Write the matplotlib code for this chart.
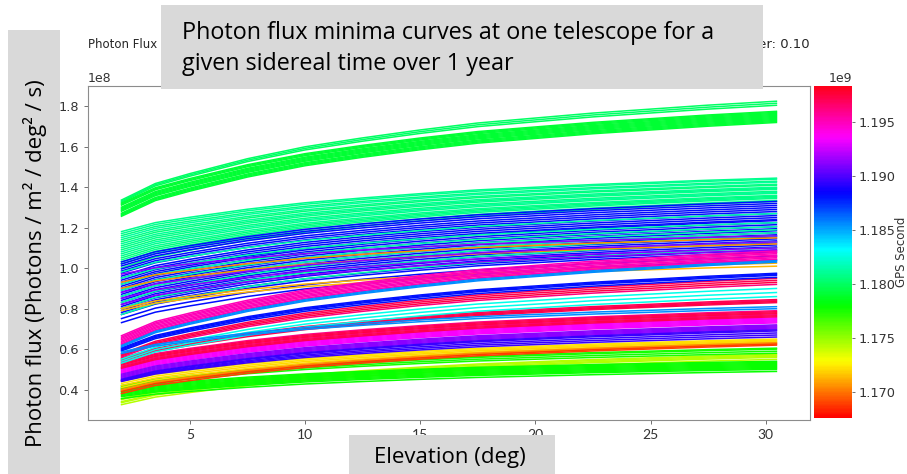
import matplotlib
matplotlib.use("Agg")
import matplotlib.pyplot as plt
import numpy as np
from matplotlib.patches import Rectangle
from matplotlib import cm, colors

# ---------------- data ----------------
# elevation samples (deg) and shared normalised rise profile of a curve
elevation = [2, 3.5, 5, 7.5, 10, 12.5, 15, 17.5, 20, 22.5, 25, 27.5, 30.5]
rise_profile = [0, 0.17, 0.27, 0.42, 0.54, 0.63, 0.71, 0.78, 0.83, 0.88, 0.92, 0.96, 1.0]

# each curve: GPS second (x1e9), flux at 2 deg and flux at 30.5 deg (x1e8)
top_green_gps = [1.1800, 1.1801, 1.1799] + [1.1790] * 12
top_green_start = [1.335, 1.33, 1.325, 1.32, 1.315, 1.31, 1.30, 1.295, 1.29, 1.285, 1.28, 1.27, 1.265, 1.26, 1.255]
top_green_end = [1.825, 1.815, 1.805, 1.775, 1.77, 1.765, 1.76, 1.755, 1.75, 1.745, 1.74, 1.735, 1.73, 1.725, 1.72]

aqua_gps = [1.1808, 1.1810, 1.1806, 1.1812, 1.1808, 1.1805, 1.1811, 1.1807, 1.1809,
            1.1806, 1.1812, 1.1808, 1.1810, 1.1805, 1.1809, 1.1807, 1.1811, 1.1806]
aqua_start = [1.18, 1.17, 1.16, 1.15, 1.14, 1.13, 1.12, 1.11, 1.10, 1.09, 1.08, 1.07, 1.06, 1.05, 1.04, 1.03, 1.02, 1.00]
aqua_end = [1.445, 1.44, 1.43, 1.425, 1.415, 1.41, 1.40, 1.395, 1.39, 1.38, 1.375, 1.37, 1.36, 1.355, 1.35, 1.345, 1.335, 1.33]

blue_gps = [1.1882] * 28
blue_start = [1.03, 1.02, 1.01, 0.995, 0.985, 0.975, 0.96, 0.95, 0.94, 0.93, 0.92, 0.91, 0.90, 0.89,
              0.88, 0.87, 0.86, 0.85, 0.84, 0.83, 0.82, 0.81, 0.80, 0.79, 0.78, 0.77, 0.75, 0.73]
blue_end = [1.33, 1.32, 1.31, 1.30, 1.29, 1.28, 1.27, 1.26, 1.25, 1.24, 1.235, 1.225, 1.215, 1.205,
            1.195, 1.185, 1.175, 1.165, 1.155, 1.145, 1.135, 1.125, 1.115, 1.105, 1.09, 1.08, 1.06, 1.04]

teal_gps = [1.1815] * 8
teal_start = [0.98, 0.95, 0.92, 0.89, 0.86, 0.83, 0.80, 0.77]
teal_end = [1.27, 1.225, 1.205, 1.19, 1.175, 1.16, 1.13, 1.10]

orange_mid_gps = [1.1705, 1.1706, 1.1712, 1.1714]
orange_mid_start = [0.93, 0.90, 0.80, 0.79]
orange_mid_end = [1.15, 1.12, 1.025, 1.01]

purple_mid_gps = [1.1912] * 4
purple_mid_start = [0.97, 0.88, 0.85, 0.82]
purple_mid_end = [1.16, 1.13, 1.10, 1.09]

pink_gps = [1.1950] * 7
pink_start = [0.665, 0.658, 0.652, 0.645, 0.638, 0.632, 0.625]
pink_end = [1.085, 1.078, 1.072, 1.065, 1.058, 1.052, 1.045]

azure_gps = [1.1855] * 5
azure_start = [0.62, 0.615, 0.61, 0.585, 0.578]
azure_end = [1.04, 1.035, 1.03, 0.81, 0.80]

blue_low_gps = [1.1880] * 4
blue_low_start = [0.605, 0.60, 0.595, 0.59]
blue_low_end = [0.975, 0.97, 0.965, 0.955]

red_gps = [1.1972, 1.1970, 1.1974, 1.1962, 1.1972, 1.1968, 1.1975, 1.1972,
           1.1960, 1.1972, 1.1970, 1.1974, 1.1965, 1.1972, 1.1970]
red_start = [0.575, 0.57, 0.565, 0.56, 0.555, 0.55, 0.545, 0.54, 0.535, 0.53, 0.525, 0.52, 0.515, 0.51, 0.505]
red_end = [0.95, 0.94, 0.93, 0.92, 0.845, 0.84, 0.835, 0.83, 0.79, 0.785, 0.78, 0.775, 0.77, 0.765, 0.76]

cyan_gps = [1.1828] * 3
cyan_start = [0.55, 0.54, 0.53]
cyan_end = [0.90, 0.88, 0.86]

magenta_gps = [1.1935] * 6 + [1.1912] * 5 + [1.1895] * 5
magenta_start = [0.505, 0.50, 0.495, 0.49, 0.485, 0.48, 0.475, 0.47, 0.465, 0.46, 0.455,
                 0.45, 0.447, 0.444, 0.442, 0.44]
magenta_end = [0.755, 0.75, 0.745, 0.74, 0.735, 0.73, 0.72, 0.715, 0.71, 0.705, 0.70,
               0.695, 0.69, 0.68, 0.67, 0.66]

yellow_gps = [1.1722, 1.1722, 1.1720, 1.1721, 1.1705, 1.1706, 1.1688, 1.1690]
yellow_start = [0.44, 0.43, 0.42, 0.41, 0.40, 0.395, 0.39, 0.38]
yellow_end = [0.65, 0.645, 0.64, 0.635, 0.632, 0.628, 0.625, 0.62]

green_gps = [1.1776] * 4 + [1.1778] * 10
green_start = [0.42, 0.415, 0.41, 0.405, 0.405, 0.40, 0.395, 0.39, 0.385, 0.38, 0.375, 0.37, 0.365, 0.355]
green_end = [0.605, 0.60, 0.59, 0.58, 0.54, 0.535, 0.53, 0.525, 0.52, 0.515, 0.51, 0.505, 0.50, 0.49]

lime_gps = [1.1744] * 5
lime_start = [0.355, 0.35, 0.34, 0.335, 0.325]
lime_end = [0.575, 0.57, 0.565, 0.56, 0.55]

groups = [
    (top_green_gps, top_green_start, top_green_end),
    (aqua_gps, aqua_start, aqua_end),
    (blue_gps, blue_start, blue_end),
    (teal_gps, teal_start, teal_end),
    (orange_mid_gps, orange_mid_start, orange_mid_end),
    (purple_mid_gps, purple_mid_start, purple_mid_end),
    (lime_gps, lime_start, lime_end),
    (green_gps, green_start, green_end),
    (yellow_gps, yellow_start, yellow_end),
    (magenta_gps, magenta_start, magenta_end),
    (red_gps, red_start, red_end),
    (cyan_gps, cyan_start, cyan_end),
    (blue_low_gps, blue_low_start, blue_low_end),
    (azure_gps, azure_start, azure_end),
    (pink_gps, pink_start, pink_end),
]

gps_min, gps_max = 1.1676, 1.1983

# ---------------- figure ----------------
W, H = 907, 474
fig = plt.figure(figsize=(W / 100, H / 100), dpi=100)

def fx(px):
    return px / W

def fy(py):
    return 1 - py / H

ax = fig.add_axes([fx(88), fy(420), fx(810) - fx(88), fy(86) - fy(420)])
cax = fig.add_axes([fx(814), fy(418), fx(852) - fx(814), fy(86) - fy(418)])

cmap = plt.get_cmap("hsv")
norm = colors.Normalize(vmin=gps_min * 1e9, vmax=gps_max * 1e9)

x = np.array(elevation)
prof = np.array(rise_profile)
for gps_list, s_list, e_list in groups:
    for g, s, e in zip(gps_list, s_list, e_list):
        y = (s + (e - s) * prof) * 1e8
        ax.plot(x, y, color=cmap(norm(g * 1e9)), lw=1.1, solid_capstyle="butt")

for sp in ax.spines.values():
    sp.set_color("0.55")
    sp.set_linewidth(0.8)
ax.tick_params(axis="y", labelsize=9.3, colors="0.35", labelcolor="0.2", length=3, width=0.6)
ax.tick_params(axis="x", labelsize=10, colors="0.35", labelcolor="0.2", length=3, width=0.6)
for lab in ax.get_xticklabels():
    lab.set_fontfamily(["Lato", "DejaVu Sans"])
ax.yaxis.get_offset_text().set_fontsize(9)
ax.yaxis.get_offset_text().set_color("0.2")

ax.set_title("Photon Flux", loc="left", fontsize=8.5, pad=27, color="0.15")
ax.set_title("Buffer: 0.10", loc="right", fontsize=9.5, pad=27, color="0.15")

sm = cm.ScalarMappable(norm=norm, cmap=cmap)
cb = fig.colorbar(sm, cax=cax)
cb.outline.set_visible(False)
cax.tick_params(labelsize=9.3, colors="0.35", labelcolor="0.2", length=2.5, width=0.6, pad=2)
cax.yaxis.get_offset_text().set_fontsize(9)
cax.yaxis.get_offset_text().set_color("0.2")
cb.set_label("GPS Second", fontsize=8.5, color="0.2", labelpad=0)

# ---------------- slide overlays ----------------
box_col = "#d9d9d9"
font_fam = ["Open Sans", "DejaVu Sans"]
fsz = 16

fig.add_artist(Rectangle((fx(161), fy(89)), fx(763) - fx(161), fy(5) - fy(89),
                         transform=fig.transFigure, facecolor=box_col, edgecolor="none", zorder=10))
fig.text(fx(182), fy(33), "Photon flux minima curves at one telescope for a",
         fontsize=16.8, family=font_fam, va="center", ha="left", color="black", zorder=11)
fig.text(fx(182), fy(64), "given sidereal time over 1 year",
         fontsize=16.8, family=font_fam, va="center", ha="left", color="black", zorder=11)

fig.add_artist(Rectangle((fx(8), fy(474)), fx(60) - fx(8), fy(30) - fy(474),
                         transform=fig.transFigure, facecolor=box_col, edgecolor="none", zorder=10))
fig.text(fx(35), fy(263), "Photon flux (Photons / m\u00b2 / deg\u00b2 / s)",
         fontsize=fsz, family=font_fam, rotation=90, va="center", ha="center", color="black", zorder=11)

fig.add_artist(Rectangle((fx(349), fy(474)), fx(555) - fx(349), fy(435) - fy(474),
                         transform=fig.transFigure, facecolor=box_col, edgecolor="none", zorder=10))
fig.text(fx(450), fy(457), "Elevation (deg)",
         fontsize=fsz, family=font_fam, va="center", ha="center", color="black", zorder=11)

fig.savefig("out.png", dpi=100)
